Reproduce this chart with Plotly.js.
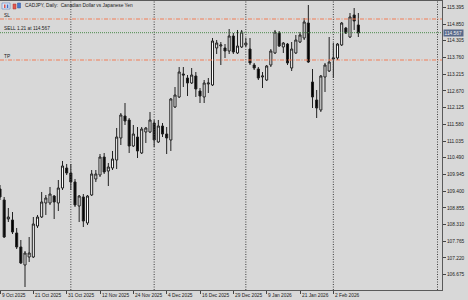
<!DOCTYPE html>
<html>
<head>
<meta charset="utf-8">
<script src="https://cdn.plot.ly/plotly-3.0.1.min.js"></script>
<style>
html,body{margin:0;padding:0;background:#d8d8d8;}
#chart{width:468px;height:300px;}
</style>
</head>
<body>
<div id="chart"></div>
<script>
// ---- data (CADJPY daily) ----
const dates = [
 '2025-10-09','2025-10-10','2025-10-13','2025-10-14','2025-10-15','2025-10-16','2025-10-17','2025-10-20','2025-10-21','2025-10-22',
 '2025-10-23','2025-10-24','2025-10-27','2025-10-28','2025-10-29','2025-10-30','2025-10-31',
 '2025-11-03','2025-11-04','2025-11-05','2025-11-06','2025-11-07','2025-11-10','2025-11-11','2025-11-12','2025-11-13','2025-11-14',
 '2025-11-17','2025-11-18','2025-11-19','2025-11-20','2025-11-21','2025-11-24','2025-11-25','2025-11-26','2025-11-27','2025-11-28',
 '2025-12-01','2025-12-02','2025-12-03','2025-12-04','2025-12-05','2025-12-08','2025-12-09','2025-12-10','2025-12-11','2025-12-12',
 '2025-12-15','2025-12-16','2025-12-17','2025-12-18','2025-12-19','2025-12-22','2025-12-23','2025-12-24','2025-12-26','2025-12-29',
 '2025-12-30','2025-12-31',
 '2026-01-02','2026-01-05','2026-01-06','2026-01-07','2026-01-08','2026-01-09','2026-01-12','2026-01-13','2026-01-14','2026-01-15',
 '2026-01-16','2026-01-19','2026-01-20','2026-01-21','2026-01-22','2026-01-23','2026-01-26','2026-01-27','2026-01-28','2026-01-29',
 '2026-01-30',
 '2026-02-02','2026-02-03','2026-02-04','2026-02-05','2026-02-06','2026-02-09','2026-02-10'
];
const open = [
 109.470,109.111,108.491,108.459,108.035,107.578,106.991,107.252,107.252,108.263,
 108.556,109.013,109.013,109.241,109.013,109.502,110.154,
 109.991,109.698,108.915,109.209,108.361,109.274,109.796,109.926,110.513,110.056,
 110.154,110.415,111.133,111.850,111.720,110.872,111.165,110.644,111.328,111.328,
 111.622,111.002,111.524,111.263,111.067,112.144,112.470,113.220,113.089,112.926,
 113.155,112.665,112.470,112.894,112.861,114.068,114.133,114.068,113.970,114.459,
 113.905,114.100,
 114.166,114.035,113.513,113.383,113.122,113.024,113.513,113.905,114.557,114.100,
 114.198,113.415,113.905,114.263,114.394,114.883,112.959,112.372,112.046,113.122,
 113.318,
 113.709,113.742,114.166,114.720,114.426,115.144,114.818
];
const high = [
 109.600,109.209,108.850,108.719,108.198,107.806,107.448,107.904,108.556,108.622,
 109.372,109.274,109.535,109.274,109.763,110.383,110.285,
 110.285,109.796,109.274,109.306,109.274,110.089,110.089,110.611,110.644,110.317,
 110.709,111.459,111.948,112.274,111.785,111.557,111.491,111.491,111.491,111.981,
 111.720,111.720,111.622,111.491,112.437,112.796,113.448,113.448,113.187,113.415,
 113.285,112.763,113.024,113.089,114.394,114.329,114.263,114.198,114.687,114.557,
 114.655,114.655,
 114.394,114.394,113.579,113.448,113.285,113.513,114.035,114.655,114.622,114.263,
 114.231,114.263,114.492,114.589,115.046,115.470,113.383,112.698,113.187,113.579,
 114.426,
 114.231,114.231,114.916,114.753,115.209,115.372,115.209
];
const low = [
 109.111,107.872,108.393,108.002,107.513,107.024,106.274,107.089,107.219,108.198,
 108.524,108.622,108.948,108.491,108.752,109.437,109.926,
 109.437,108.883,108.393,108.230,108.296,109.241,109.698,109.861,109.959,109.567,
 110.089,110.122,110.904,111.557,110.644,110.839,110.480,110.611,110.970,111.296,
 110.839,110.970,111.165,110.611,110.709,112.111,112.437,112.796,112.502,112.894,
 112.470,112.274,112.274,112.600,112.829,113.872,113.513,113.742,113.872,113.872,
 113.872,114.068,
 114.100,113.513,113.350,113.024,112.763,112.992,113.448,113.872,114.100,113.905,
 113.513,113.318,113.872,114.231,114.329,113.579,112.111,111.785,111.981,112.633,
 113.285,
 113.089,113.676,114.133,114.524,114.394,114.655,114.426
];
const close = [
 109.209,107.904,108.556,108.067,107.578,107.056,107.382,107.382,108.328,108.556,
 109.046,109.176,109.306,109.046,109.502,110.220,109.991,
 109.698,108.948,109.241,108.426,109.241,109.959,109.959,110.513,110.024,110.187,
 110.448,111.165,111.883,111.687,110.872,111.263,110.709,111.426,111.459,111.720,
 111.067,111.524,111.263,111.133,112.405,112.535,113.285,113.187,112.926,113.187,
 112.731,112.502,112.926,112.926,114.296,114.231,114.166,113.970,114.459,113.937,
 114.133,114.589,
 114.231,113.579,113.415,113.089,113.155,113.481,113.970,114.589,114.133,114.231,
 113.579,114.035,114.329,114.492,114.916,113.611,112.470,112.111,113.155,113.513,
 113.611,
 113.742,114.198,114.883,114.557,115.079,114.948,114.557
];
const labelDates = ['2025-10-09','2025-10-21','2025-10-31','2025-11-12','2025-11-24','2025-12-04',
                    '2025-12-16','2025-12-29','2026-01-09','2026-01-21','2026-02-02'];
const separatorDates = ['2025-11-03','2025-12-01','2026-01-02','2026-02-02'];
const yTicks = [106.675,107.220,107.765,108.310,108.855,109.400,109.945,110.490,111.035,
                111.580,112.125,112.670,113.215,113.760,114.305,114.850,115.395];
const slPrice = 115.013;
const entryPrice = 114.567;
const tpPrice = 113.676;
const lastPrice = 114.567;
const titleText = 'CADJPY, Daily:  Canadian Dollar vs Japanese Yen';
const entryText = 'SELL 1.21 at 114.567';

// ---- build ----
const MON = ['Jan','Feb','Mar','Apr','May','Jun','Jul','Aug','Sep','Oct','Nov','Dec'];
function fmt(d){const p=d.split('-');return (+p[2])+' '+MON[+p[1]-1]+' '+p[0];}
const idx = dates.map((d,i)=>i);
const tickvals = labelDates.map(d=>dates.indexOf(d));
const ticktext = labelDates.map(fmt);

const FONT = 'Liberation Sans, Arial, sans-serif';
const FS = 4.8;
const W = 468, H = 300, ML = 0, MR = 26, MT = 1, MB = 10;
const PW = W-ML-MR, PH = H-MT-MB;
const px = v => v/PW;                 // pixel -> paper x
const py = v => 1-(v-MT)/PH;          // pixel -> paper y

const shapes = [];
separatorDates.map(d=>dates.indexOf(d)).concat([105]).forEach(x=>{
  shapes.push({type:'line',xref:'x',yref:'paper',x0:x,x1:x,y0:0,y1:1,
    line:{color:'#3c3c3c',width:1,dash:'1px,1.5px'}});
});
[slPrice,tpPrice].forEach(p=>{
  shapes.push({type:'line',xref:'paper',yref:'y',x0:0,x1:1,y0:p,y1:p,
    line:{color:'#f27c56',width:1,dash:'4px,1.5px,1px,1.5px'}});
});
shapes.push({type:'line',xref:'paper',yref:'y',x0:0,x1:1,y0:entryPrice,y1:entryPrice,
  line:{color:'#4a8a4a',width:1,dash:'1px,1px'}});
// small window icons
shapes.push({type:'rect',xref:'paper',yref:'paper',x0:px(2),x1:px(10),y0:py(9),y1:py(3),
  fillcolor:'#dfe8f6',line:{color:'#5b7fc0',width:0.6}});
shapes.push({type:'rect',xref:'paper',yref:'paper',x0:px(4),x1:px(5.5),y0:py(8),y1:py(4.5),
  fillcolor:'#d9534f',line:{width:0}});
shapes.push({type:'rect',xref:'paper',yref:'paper',x0:px(6.8),x1:px(8.3),y0:py(8),y1:py(4.5),
  fillcolor:'#3f6fc6',line:{width:0}});
shapes.push({type:'rect',xref:'paper',yref:'paper',x0:px(13),x1:px(16),y0:py(9),y1:py(4),
  fillcolor:'#e05a50',line:{color:'#b03030',width:0.5}});
shapes.push({type:'rect',xref:'paper',yref:'paper',x0:px(17.5),x1:px(20.5),y0:py(8),y1:py(3),
  fillcolor:'#4a78cc',line:{color:'#2c55a0',width:0.5}});

const txt = {family:FONT,size:FS,color:'#1a1a1a'};
const annotations = [
  {xref:'paper',yref:'paper',x:px(23),y:py(5.8),xanchor:'left',yanchor:'middle',text:titleText,showarrow:false,font:txt},
  {xref:'paper',yref:'y',x:px(3),y:slPrice,xanchor:'left',yanchor:'bottom',yshift:0.5,text:'SL',showarrow:false,font:txt,borderpad:0},
  {xref:'paper',yref:'y',x:px(3),y:entryPrice,xanchor:'left',yanchor:'bottom',yshift:0.5,text:entryText,showarrow:false,font:txt,borderpad:0},
  {xref:'paper',yref:'y',x:px(3),y:tpPrice,xanchor:'left',yanchor:'bottom',yshift:0.5,text:'TP',showarrow:false,font:txt,borderpad:0},
  {xref:'paper',yref:'y',x:1,xshift:1,y:lastPrice,xanchor:'left',yanchor:'middle',text:lastPrice.toFixed(3),
   showarrow:false,bgcolor:'#58698a',borderpad:0.6,font:{family:FONT,size:FS,color:'#f2f2f2'}}
];
// date labels, left-aligned at their ticks (as the terminal draws them)
tickvals.forEach((v,i)=>{
  annotations.push({xref:'x',yref:'paper',x:v,y:0,xanchor:'left',yanchor:'top',xshift:0.5,yshift:-2,
    text:ticktext[i],showarrow:false,font:txt,borderpad:0});
});

const trace = {
  type:'candlestick', x:idx, open:open, high:high, low:low, close:close,
  increasing:{line:{color:'#202020',width:1},fillcolor:'#ffffff'},
  decreasing:{line:{color:'#202020',width:1},fillcolor:'#000000'},
  whiskerwidth:0, hoverinfo:'skip'
};

const layout = {
  width:W, height:H,
  margin:{l:ML,r:MR,t:MT,b:MB,pad:0},
  paper_bgcolor:'#d8d8d8', plot_bgcolor:'#d8d8d8',
  showlegend:false,
  font:{family:FONT,size:FS,color:'#1a1a1a'},
  xaxis:{type:'linear',range:[0,PW/4.1667],tickmode:'array',tickvals:tickvals,showticklabels:false,
    ticks:'outside',ticklen:3,tickwidth:1,tickcolor:'#444',
    showgrid:false,zeroline:false,showline:true,linecolor:'#5a5a5a',linewidth:1,mirror:true,
    rangeslider:{visible:false},fixedrange:true,automargin:false},
  yaxis:{side:'right',range:[115.633-290*0.032611,115.633-1*0.032611],tickmode:'array',tickvals:yTicks,
    ticktext:yTicks.map(v=>v.toFixed(3)),ticks:'outside',ticklen:3,tickwidth:1,tickcolor:'#444',
    showgrid:false,zeroline:false,showline:true,linecolor:'#5a5a5a',linewidth:1,
    tickfont:{family:FONT,size:FS,color:'#1a1a1a'},fixedrange:true,automargin:false},
  shapes:shapes, annotations:annotations
};

Plotly.newPlot('chart',[trace],layout,{staticPlot:true,displayModeBar:false});
</script>
</body>
</html>
